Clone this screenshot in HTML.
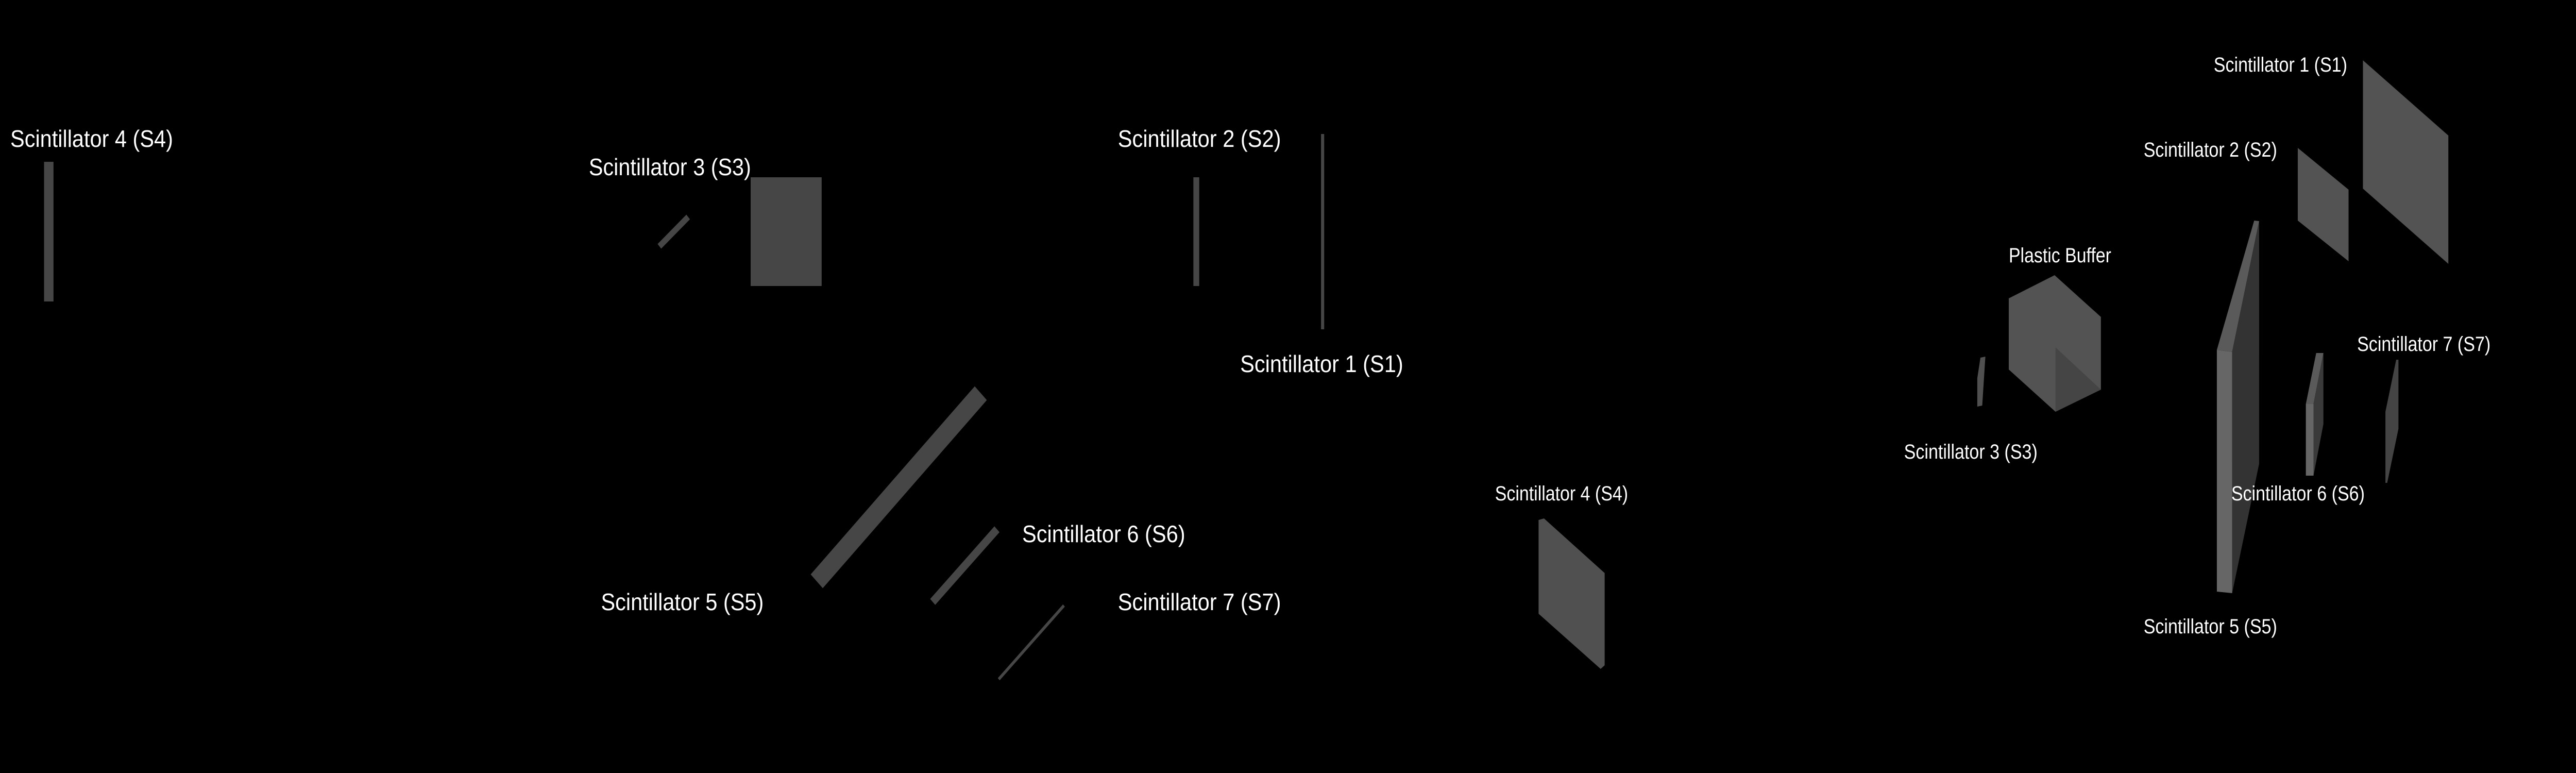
<!DOCTYPE html>
<html><head><meta charset="utf-8"><title>Scintillator detector layout</title>
<style>
html,body{margin:0;padding:0;background:#000;width:100%;height:100%;overflow:hidden;}
svg{display:block;width:100%;height:100%;}
text{font-family:"Liberation Sans",sans-serif;fill:#fff;}
</style></head>
<body>
<svg viewBox="0 0 5731 1500" preserveAspectRatio="none" xmlns="http://www.w3.org/2000/svg">
<rect x="0" y="0" width="5731" height="1500" fill="#000"/>

<g>
  <text x="23" y="285" font-size="46" textLength="362" lengthAdjust="spacingAndGlyphs">Scintillator 4 (S4)</text>
  <rect x="98" y="314" width="21" height="271" fill="#464646"/>
  <text x="1310" y="340" font-size="46" textLength="361" lengthAdjust="spacingAndGlyphs">Scintillator 3 (S3)</text>
  <line x1="1467" y1="478" x2="1531" y2="421" stroke="#464646" stroke-width="12"/>
  <rect x="1670" y="344" width="158" height="211" fill="#464646"/>
  <text x="1337" y="1184" font-size="46" textLength="362" lengthAdjust="spacingAndGlyphs">Scintillator 5 (S5)</text>
  <line x1="1817" y1="1128" x2="2182" y2="763" stroke="#464646" stroke-width="38"/>
  <text x="2487" y="285" font-size="46" textLength="363" lengthAdjust="spacingAndGlyphs">Scintillator 2 (S2)</text>
  <rect x="2655" y="344" width="13" height="211" fill="#464646"/>
  <rect x="2939" y="260" width="7" height="379" fill="#464646"/>
  <text x="2759" y="722" font-size="46" textLength="363" lengthAdjust="spacingAndGlyphs">Scintillator 1 (S1)</text>
  <line x1="2075" y1="1168" x2="2218" y2="1027" stroke="#464646" stroke-width="16"/>
  <text x="2274" y="1052" font-size="46" textLength="363" lengthAdjust="spacingAndGlyphs">Scintillator 6 (S6)</text>
  <line x1="2222" y1="1318" x2="2367" y2="1175" stroke="#464646" stroke-width="6"/>
  <text x="2487" y="1184" font-size="46" textLength="363" lengthAdjust="spacingAndGlyphs">Scintillator 7 (S7)</text>
</g>

<g>
  <text x="3326" y="971" font-size="40" textLength="296" lengthAdjust="spacingAndGlyphs">Scintillator 4 (S4)</text>
  <polygon points="3423,1009 3435,1006 3570,1112 3570,1291 3561,1298 3423,1191" fill="#505050"/>
</g>

<g>
  <text x="4925" y="139" font-size="40" textLength="297" lengthAdjust="spacingAndGlyphs">Scintillator 1 (S1)</text>
  <polygon points="5257,117 5447,263 5447,512 5257,366" fill="#535353"/>
  <text x="4769" y="304" font-size="40" textLength="297" lengthAdjust="spacingAndGlyphs">Scintillator 2 (S2)</text>
  <polygon points="5112,287 5225,368 5225,507 5112,428" fill="#535353"/>
  <text x="4469" y="509" font-size="40" textLength="228" lengthAdjust="spacingAndGlyphs">Plastic Buffer</text>
  <polygon points="4469,579 4571,534 4674,615 4674,756 4573,799 4469,717" fill="#535353"/>
  <polygon points="4573,674 4674,756 4573,799" fill="#454545"/>
  <polygon points="4399,734 4406,694 4417,692 4410,787 4399,789" fill="#505050"/>
  <text x="4236" y="890" font-size="40" textLength="297" lengthAdjust="spacingAndGlyphs">Scintillator 3 (S3)</text>
  <polygon points="4932,679 5015,428 5026,429 4966,683" fill="#5a5a5a"/>
  <polygon points="4966,683 5026,429 5026,900 4966,1151" fill="#333"/>
  <polygon points="4932,679 4966,683 4966,1151 4932,1148" fill="#666"/>
  <text x="4769" y="1229" font-size="40" textLength="297" lengthAdjust="spacingAndGlyphs">Scintillator 5 (S5)</text>
  <polygon points="5130,784 5153,685 5169,685 5147,784" fill="#5a5a5a"/>
  <polygon points="5147,784 5169,685 5169,823 5147,923" fill="#3a3a3a"/>
  <polygon points="5130,784 5147,784 5147,923 5130,923" fill="#666"/>
  <text x="4964" y="971" font-size="40" textLength="297" lengthAdjust="spacingAndGlyphs">Scintillator 6 (S6)</text>
  <polygon points="5307,799 5331,698 5336,698 5336,832 5311,937 5307,937" fill="#444"/>
  <text x="5244" y="681" font-size="40" textLength="297" lengthAdjust="spacingAndGlyphs">Scintillator 7 (S7)</text>
</g>
</svg>
</body></html>
